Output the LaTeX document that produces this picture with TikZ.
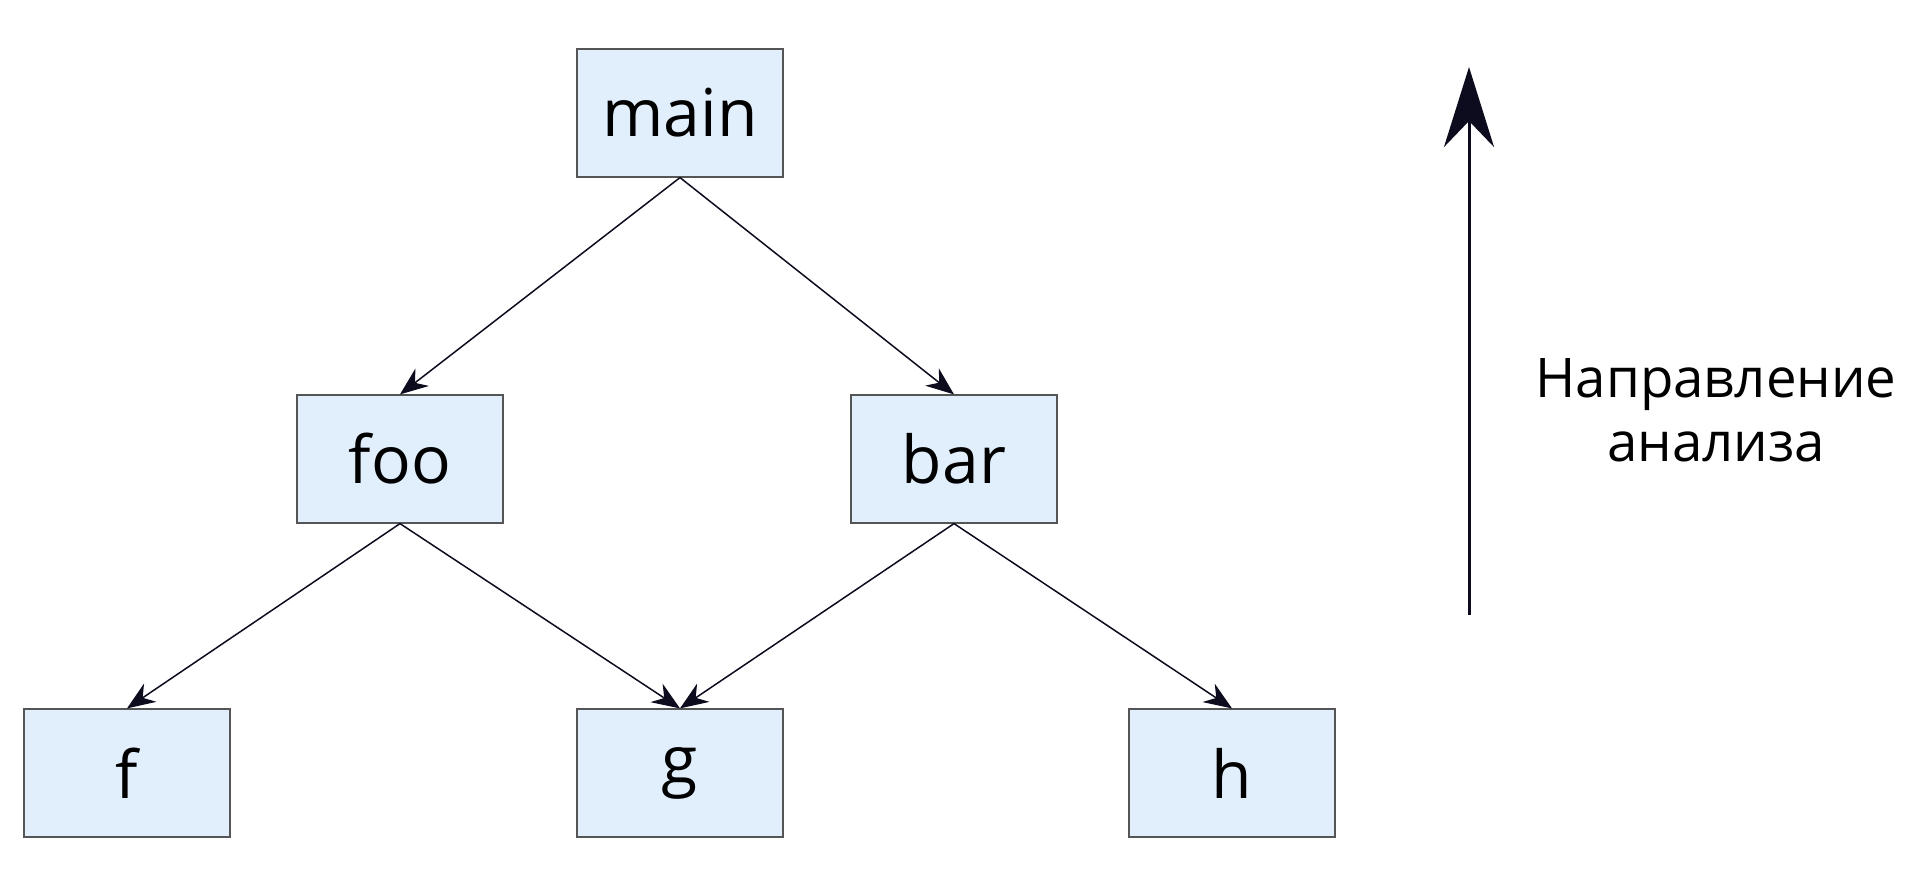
\documentclass[tikz,border=0pt]{standalone}
\usepackage{fontspec}
\setmainfont{Open Sans}
\usetikzlibrary{arrows.meta}
\definecolor{boxfill}{RGB}{225,238,251}
\definecolor{boxline}{RGB}{85,85,85}
\definecolor{arrowcol}{RGB}{12,12,30}
\begin{document}
\begin{tikzpicture}[x=0.5pt,y=-0.5pt,
  box/.style={draw=boxline, line width=0.6pt, fill=boxfill, minimum width=103pt, minimum height=64pt, inner sep=0pt, font=\fontsize{33}{40}\selectfont},
  edge/.style={draw=arrowcol, line width=0.75pt, -{Stealth[length=14pt,width=11pt]}},
  bigarrow/.style={draw=arrowcol, line width=1.5pt, -{Stealth[length=40pt,width=25pt]}},
  lbl/.style={align=center, font=\fontsize{27.3}{32}\selectfont}]
\useasboundingbox (0,0) rectangle (1920,887);
\node[box] (main) at (680,113) {main};
\node[box] (foo) at (400,459) {foo};
\node[box] (bar) at (954,459) {bar};
\node[box] (f) at (127,773) {f};
\node[box] (g) at (680,773) {g};
\node[box] (h) at (1232,773) {h};
\draw[edge] (main.south) -- (foo.north);
\draw[edge] (main.south) -- (bar.north);
\draw[edge] (foo.south) -- (f.north);
\draw[edge] (foo.south) -- (g.north);
\draw[edge] (bar.south) -- (g.north);
\draw[edge] (bar.south) -- (h.north);
\coordinate (abot) at (1469,615);
\coordinate (atop) at (1469,67);
\draw[bigarrow] (abot) -- (atop);
\node[lbl] (dir) at (1716,410) {Направление\\анализа};
\end{tikzpicture}
\end{document}
